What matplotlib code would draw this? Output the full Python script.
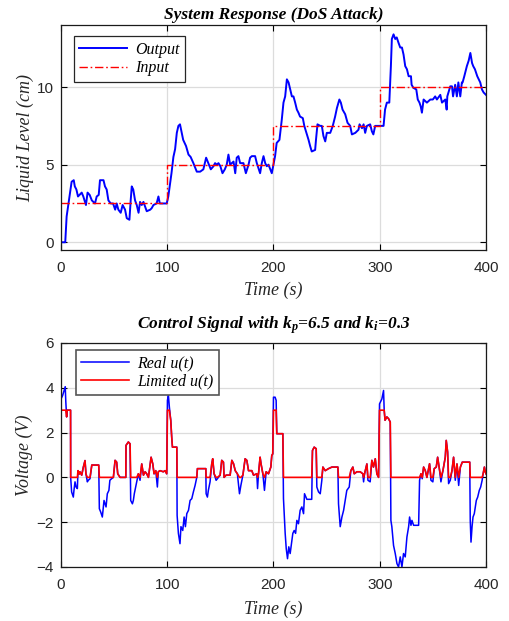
import numpy as np
import matplotlib
matplotlib.use("Agg")
import matplotlib.pyplot as plt

# ---------------- data ----------------
out_t = [0, 4, 5.3, 8.5, 10, 12, 13, 14.5, 16, 19.5, 21, 23.5, 25, 27, 29, 32, 33.6, 35.5, 36.7, 40,
         41.4, 43, 44.6, 46.8, 49, 51, 52.4, 54, 56.2, 58, 60.3, 61.9, 64.4, 65.6, 66.6, 68, 69.7, 71.3,
         73, 74.4, 76, 77.6, 80.7, 84, 85.4, 87, 90, 91.7, 93, 96, 99.5, 101, 104, 105.8, 107.4, 109,
         110.5, 112, 113.7, 115, 117.7, 120, 122, 124.6, 127.8, 131, 134, 136.6, 138.7, 141, 143.5, 145,
         146.7, 148.2, 150, 152, 154.2, 156, 157.6, 159.2, 162.4, 164, 165.4, 167, 168.6, 171.7, 174,
         176.5, 178, 179.6, 182.7, 184.3, 187.4, 189, 190.6, 192.2, 193.7, 195.3, 198.4, 200, 201.5,
         203, 205.6, 207.8, 209.4, 211, 212.6, 214.2, 215.7, 217.3, 218.8, 220.4, 222, 223.5, 225,
         227.6, 229, 231, 233, 234.5, 236, 239.2, 240, 241.4, 244, 245.5, 247, 248.7, 250.2, 253.4,
         255.8, 258, 259.7, 262, 263.4, 265, 267.5, 269.7, 272.2, 273.8, 277, 280, 281, 283.3, 284.8,
         286.3, 287.9, 291, 292.6, 294, 295.7, 297.3, 300, 302, 303.6, 305, 306.7, 309, 310.5, 311.4,
         313, 314.6, 316, 317.7, 319.3, 320.9, 322.4, 324, 325.6, 327.2, 329.4, 330, 331.7, 334.4,
         335.8, 337.4, 338.6, 339.7, 341.3, 344.4, 347.6, 350, 352.2, 353.8, 357, 358.6, 361.7, 363,
         363.6, 366.4, 368, 369, 371, 372.6, 374, 375.8, 377.3, 378, 379.6, 382, 383.7, 385.3, 386.9,
         388, 389.6, 391.8, 394.6, 396.2, 397.8, 400]
out_v = [0, 0, 1.66, 3.2, 3.9, 4.0, 3.6, 3.4, 2.95, 3.2, 2.95, 2.4, 3.2, 3.05, 2.7, 2.5, 2.95, 3.05, 4.0, 4.0,
         3.6, 3.4, 2.7, 2.5, 2.5, 2.1, 2.5, 2.1, 1.9, 2.4, 2.1, 1.55, 1.45, 2.7, 3.6, 3.4, 2.7, 2.4,
         1.9, 2.6, 2.4, 2.6, 2.0, 2.1, 2.2, 2.4, 2.5, 2.95, 2.5, 2.5, 2.5, 2.95, 4.45, 5.5, 6.0, 7.05,
         7.5, 7.6, 7.05, 6.6, 6.2, 5.65, 5.5, 5.1, 4.55, 4.55, 4.7, 5.45, 5.1, 4.7, 4.9, 5.1,
         5.0, 5.1, 4.9, 4.45, 4.7, 5.0, 5.65, 5.0, 5.2, 4.45, 5.45, 5.55, 5.1, 5.1, 4.45,
         5.0, 5.45, 5.55, 5.55, 5.1, 4.45, 5.1, 5.55, 5.1, 4.9, 5.0, 4.45, 5.0, 5.55,
         6.4, 6.6, 7.9, 9.0, 9.4, 10.5, 10.3, 9.85, 9.4, 9.4, 9.0, 8.55, 8.35, 8.1,
         8.0, 7.5, 7.05, 6.6, 6.2, 5.85, 5.95, 6.6, 7.6, 7.5, 7.5, 6.85, 6.5, 7.05, 7.05,
         7.5, 8.1, 8.65, 9.2, 9.0, 8.55, 8.25, 7.7, 7.5, 6.95, 7.05, 7.25, 7.6, 7.35, 7.6,
         7.05, 7.5, 7.6, 7.15, 6.95, 7.5, 7.5, 7.5, 7.5, 7.5, 8.55, 9.0, 9.0, 11.35, 13.1,
         13.4, 13.1, 13.2, 12.85, 12.55, 12.55, 12.1, 11.35, 11.15, 10.7, 10.7, 10.15, 9.95, 9.85,
         9.2, 9.0, 8.75, 8.35, 9.2, 9.0, 9.2, 9.2, 9.4, 9.2, 9.5, 9.0, 9.2, 8.55,
         9.4, 10.05, 10.05, 9.4, 10.15, 9.4, 10.3, 9.4, 10.3, 10.3, 10.7, 11.35, 11.7, 12.2, 11.55,
         11.35, 11.15, 10.7, 10.3, 9.85, 9.65, 9.5]

in_t = [0, 100, 200, 300, 400]
in_v = [2.5, 5.0, 7.5, 10.0, 10.0]

u_t = [0, 1.5, 3, 4, 4.5, 5.3, 5.8, 9.0, 9.1, 10, 11.6, 12.2, 13.2, 14.2, 15.4, 16, 17.2, 17.8, 19.5, 21,
       22.6, 23.5, 24.8, 25.7, 27.3, 29, 33.6, 35.5, 36.1, 37.4, 38.9, 40.5, 42.4, 43.6, 45.1, 46,
       47.6, 49.3, 50.9, 52.4, 53.4, 55.6, 58.7, 61, 61.2, 63.4, 65, 65.6, 67.2, 68.1, 69, 70.3,
       71.3, 72.8, 74.4, 76, 77.6, 79.2, 80.7, 82.3, 84.8, 86.4, 87.6, 89.2, 90.7, 91.6, 93.2, 96.3,
       97.9, 99.5, 100.2, 101.1, 102, 103.3, 104.2, 104.9, 109, 109.3, 110.5, 112, 112.9, 114.6,
       115.9, 117.1, 118.4, 120, 121.5, 123.1, 124.6, 126.2, 127.8, 128.4, 136.3, 136.6, 137.8,
       138.7, 140.3, 141.9, 142.8, 144.1, 146, 147.2, 149.8, 151.3, 152.9, 153.5, 155.4, 159.2,
       160.8, 162.4, 164, 166, 168, 169.3, 171.2, 173.3, 174.9, 176.5, 179.6, 181.2, 184.3, 185,
       185.9, 187.4, 188.3, 190, 191.5, 193.1, 195.3, 197.5, 198.4, 199.3, 200, 201.5, 202.5,
       203.1, 208.8, 209.4, 211, 212, 213.2, 214.4, 215.7, 217.3, 218.2, 219.5, 220.8, 222, 223.5,
       225.1, 226.7, 228.3, 229.2, 231.4, 236, 236.7, 238.3, 240.2, 240.8, 242.4, 244, 245.5,
       246.5, 248.7, 251.8, 255, 260.6, 261.2, 262.8, 264.4, 266, 267.5, 269, 271.3, 272.8, 274.7,
       276, 278.5, 281.6, 284.1, 284.8, 285.7, 287.9, 288.9, 291, 292.6, 294.1, 295.8, 297.3,
       298.9, 299.8, 302, 303.6, 304.2, 305, 306.7, 308.3, 309.9, 310.5, 311.4, 313, 314.6, 316.2,
       317.7, 319.3, 320.9, 322.4, 324, 325.6, 327.2, 328.1, 329.4, 330.3, 331.9, 336.6, 337.5,
       338.8, 340, 341.3, 342.9, 344.4, 346.9, 348.2, 350, 351.3, 353.2, 354.5, 356.1, 357.6,
       359.5, 361.7, 362.6, 363.9, 364.8, 366.4, 368, 369.5, 371.1, 372.7, 374.3, 375.9, 377.7,
       384.7, 385.2, 385.9, 386.9, 387.8, 389, 390.9, 392.2, 393.7, 395, 396.4, 397.3, 398.5,
       399.3, 400]
u_v = [3.5, 3.65, 3.9, 4.05, 3.4, 2.7, 3.0, 3.0, 0.0, -0.65, -0.88, -0.58, -0.2, -0.43, -0.5, 0.3, 0.15,
       0.25, 0.1, 0.45, 0.75, 0.15, -0.2, -0.13, -0.06, 0.55, 0.55, 0.55, -1.4, -1.55, -1.77, -1.03,
       -1.32, -0.73, -0.58, -0.13, -0.06, 0.0, 0.76, 0.68, 0.16, 0.0, 0.0, 0.0, 1.43, 1.58, 1.5,
       -1.03, -1.18, -1.03, -0.73, -0.43, -0.2, 0.16, -0.13, 0.6, 0.1, 0.25, 0.16, 0.0, 0.9, 0.6,
       0.16, 0.3, -0.43, 0.25, 0.3, 0.25, 0.3, 0.16, 3.44, 3.66, 3.14, 2.55, 1.8, 1.35, 1.35, -1.7,
       -2.5, -2.96, -2.2, -2.37, -1.77, -2.2, -1.62, -1.47, -1.03, -0.95, -0.65, -0.36, 0.0, 0.39,
       0.39, -0.73, -0.88, -0.58, -0.2, 0.61, 0.83, 0.16, -0.13, -0.06, 0.1, 0.76, 0.68, 0.0, 0.1,
       0.1, 0.76, 0.61, 0.3, 0.16, -0.73, -0.36, 0.1, 0.83, 0.76, 0.3, 0.3, 0.1, 0.16, -0.5, 0.16,
       0.9, 0.6, 0.16, -0.58, 0.25, 0.16, 0.46, 0.98, 1.05, 3.58, 3.58, 3.44, 1.95, 1.95, -0.95,
       -2.5, -3.18, -3.63, -3.1, -3.4, -2.8, -2.5, -2.37, -2.5, -1.92, -2.07, -1.47, -1.32, -1.62,
       -0.73, -0.98, -0.98, 1.2, 1.35, 1.28, -0.43, -0.65, -0.73, -0.13, 0.46, 0.3, 0.39, 0.46,
       0.46, -1.18, -2.2, -1.77, -1.47, -1.03, -0.58, -0.43, 0.3, 0.46, 0.16, 0.25, 0.25, 0.16,
       -0.2, 0.16, 0.6, -0.13, -0.2, 0.76, 0.46, 0.83, 0.16, 0.0, 3.28, 3.5, 3.88, 3.0, 2.55, 2.7,
       2.62, 2.47, -1.92, -2.2, -3.04, -3.4, -3.85, -4.0, -3.55, -4.0, -3.4, -3.55, -2.66, -2.2,
       -1.77, -2.14, -1.92, -2.14, -2.14, -0.13, 0.16, -0.06, 0.46, 0.3, 0.0, 0.61, -0.13, -0.2,
       0.39, 0.46, 0.9, 0.39, -0.2, 0.3, 0.9, 1.65, 1.13, -0.28, -0.13, 0.3, 0.9, -0.13, 0.6,
       -0.36, 0.46, 0.68, 0.68, -1.92, -2.89, -2.2, -1.77, -1.62, -1.03, -0.88, -0.58, -0.43,
       -0.13, 0.16, 0.46, 0.25, 0.16]

u_min, u_max = 0.0, 3.0

# ---------------- style ----------------
plt.rcParams['font.family'] = ['Liberation Sans', 'DejaVu Sans']
plt.rcParams['mathtext.fontset'] = 'custom'
plt.rcParams['mathtext.rm'] = 'Liberation Serif:bold:italic'
plt.rcParams['mathtext.it'] = 'Liberation Serif:bold:italic'
plt.rcParams['mathtext.bf'] = 'Liberation Serif:bold:italic'

serif = 'Liberation Serif'
txtc = '#262626'

fig = plt.figure(figsize=(5.10, 6.21), dpi=100)
ax1 = fig.add_axes([0.1196, 0.5974, 0.8333, 0.3623])
ax2 = fig.add_axes([0.1196, 0.0870, 0.8333, 0.3607])


def style(ax):
    ax.grid(True, color='#dcdcdc', linewidth=0.9)
    ax.set_axisbelow(True)
    ax.tick_params(direction='in', top=True, right=True, length=4.5, width=0.8,
                   labelsize=11, colors='black', labelcolor=txtc)
    ax.tick_params(axis='x', pad=8)
    ax.tick_params(axis='y', pad=5)
    for s in ax.spines.values():
        s.set_color('#1a1a1a')
        s.set_linewidth(0.9)
    ax.set_xlim(0, 400)
    ax.set_xticks([0, 100, 200, 300, 400])


# top
ax1.plot(out_t, out_v, color='#0000ff', linewidth=1.4, label='Output')
ax1.plot(in_t, in_v, color='#ff0000', linewidth=1.0, linestyle=(0, (6, 2, 1.2, 2)),
         drawstyle='steps-post', label='Input')
style(ax1)
ax1.set_ylim(-0.5, 14)
ax1.set_yticks([0, 5, 10])
ax1.set_title('System Response (DoS Attack)', family=serif, style='italic',
              weight='bold', fontsize=12.5, pad=4)
ax1.set_xlabel('Time (s)', family=serif, style='italic', fontsize=13, color=txtc, labelpad=5)
ax1.set_ylabel('Liquid Level (cm)', family=serif, style='italic', fontsize=13, color=txtc, labelpad=2)
leg1 = ax1.legend(loc='upper left', bbox_to_anchor=(0.03, 0.95), prop={'family': serif, 'style': 'italic', 'size': 11.5},
                  fancybox=False, framealpha=1, edgecolor='#262626', handlelength=3.0,
                  borderpad=0.35, labelspacing=0.15, handletextpad=0.5, borderaxespad=0)
leg1.get_frame().set_linewidth(0.9)

# bottom
u_lim = np.clip(np.array(u_v), u_min, u_max)
ax2.plot(u_t, u_v, color='#0000ff', linewidth=1.1, label='Real u(t)')
ax2.plot(u_t, u_lim, color='#ff0000', linewidth=1.2, label='Limited u(t)')
style(ax2)
ax2.set_ylim(-4, 6)
ax2.set_yticks([-4, -2, 0, 2, 4, 6])
ax2.set_title(r'Control Signal with k$_{p}$=6.5 and k$_{i}$=0.3', family=serif, style='italic',
              weight='bold', fontsize=12.5, pad=10)
ax2.set_xlabel('Time (s)', family=serif, style='italic', fontsize=13, color=txtc, labelpad=6)
ax2.set_ylabel('Voltage (V)', family=serif, style='italic', fontsize=13, color=txtc, labelpad=3)
leg2 = ax2.legend(loc='upper left', bbox_to_anchor=(0.035, 0.97), prop={'family': serif, 'style': 'italic', 'size': 11.5},
                  fancybox=False, framealpha=1, edgecolor='#555555', handlelength=3.0,
                  borderpad=0.35, labelspacing=0.15, handletextpad=0.5, borderaxespad=0)
leg2.get_frame().set_linewidth(1.2)

fig.savefig('out.png', dpi=100)
